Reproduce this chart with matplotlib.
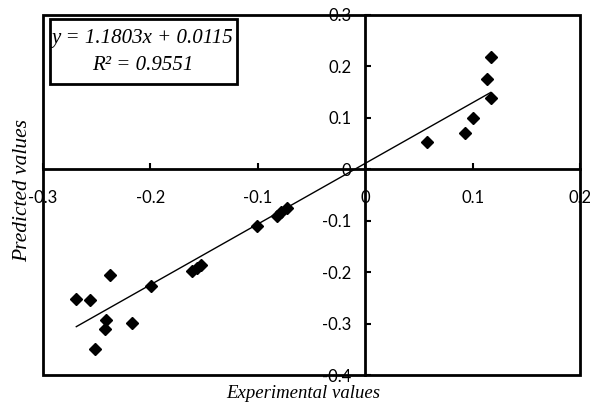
import matplotlib
matplotlib.use("Agg")
import matplotlib.pyplot as plt
from matplotlib.patches import Rectangle
import numpy as np

# Data
experimental = [0.117, 0.113, 0.117, 0.100, 0.093, 0.058,
                -0.101, -0.082, -0.078, -0.073,
                -0.161, -0.157, -0.153, -0.199,
                -0.238, -0.269, -0.256, -0.241, -0.242, -0.217, -0.252]
predicted = [0.218, 0.176, 0.139, 0.100, 0.070, 0.054,
             -0.110, -0.090, -0.083, -0.075,
             -0.197, -0.192, -0.186, -0.226,
             -0.205, -0.253, -0.254, -0.293, -0.310, -0.299, -0.349]

slope = 1.1803
intercept = 0.0115
r_squared = 0.9551

x_ticks = [-0.3, -0.2, -0.1, 0, 0.1, 0.2]
x_tick_labels = ["-0.3", "-0.2", "-0.1", "0", "0.1", "0.2"]
y_ticks = [-0.4, -0.3, -0.2, -0.1, 0, 0.1, 0.2, 0.3]
y_tick_labels = ["-0.4", "-0.3", "-0.2", "-0.1", "0", "0.1", "0.2", "0.3"]

W, H = 590, 405
fig = plt.figure(figsize=(W / 100, H / 100), dpi=100)
ax = fig.add_axes([43 / W, 1 - 375 / H, (580 - 43) / W, (375 - 15) / H])

ax.set_xlim(-0.3, 0.2)
ax.set_ylim(-0.4, 0.3)

# zero-crossing axes
ax.spines['left'].set_position(('data', 0))
ax.spines['bottom'].set_position(('data', 0))
ax.spines['top'].set_visible(False)
ax.spines['right'].set_visible(False)
for s in ('left', 'bottom'):
    ax.spines[s].set_linewidth(2.0)

# outer frame
ax.add_patch(Rectangle((0, 0), 1, 1, transform=ax.transAxes, fill=False,
                       lw=2.0, edgecolor='black', clip_on=False, zorder=2.6))

tick_font = dict(family=['Lato', 'DejaVu Sans'], size=12)
ax.set_xticks(x_ticks)
ax.set_xticklabels(x_tick_labels, **tick_font)
ax.set_yticks(y_ticks)
ax.set_yticklabels(y_tick_labels, **tick_font)
ax.tick_params(axis='x', direction='in', length=4, width=1.5, pad=15, color='black')
ax.tick_params(axis='y', direction='in', length=4, width=1.5, pad=10, color='black')

# trend line
xl = np.array([min(experimental), max(experimental)])
ax.plot(xl, slope * xl + intercept, color='black', lw=1.0, zorder=3)

ax.plot(experimental, predicted, linestyle='none', marker='D', markersize=6.5,
        color='black', zorder=4)

# equation box
fig.patches.append(Rectangle((50 / W, 1 - 84 / H), (237 - 50) / W, (84 - 19) / H,
                             transform=fig.transFigure, fill=False, lw=2.0,
                             edgecolor='black', zorder=5))
serif = ['Liberation Serif', 'DejaVu Serif']
fig.text(143 / W, 1 - 38 / H, f"y = {slope:.4f}x + {intercept:.4f}", family=serif,
         style='italic', size=15, ha='center', va='center')
fig.text(143 / W, 1 - 65 / H, f"R\u00b2 = {r_squared:.4f}", family=serif,
         style='italic', size=15, ha='center', va='center')

fig.text(303 / W, 1 - 393 / H, "Experimental values", family=serif, style='italic',
         size=13.5, ha='center', va='center')
fig.text(23 / W, 1 - 190 / H, "Predicted values", family=serif, style='italic',
         size=15.5, ha='center', va='center', rotation=90)

fig.savefig("out.png", dpi=100)
